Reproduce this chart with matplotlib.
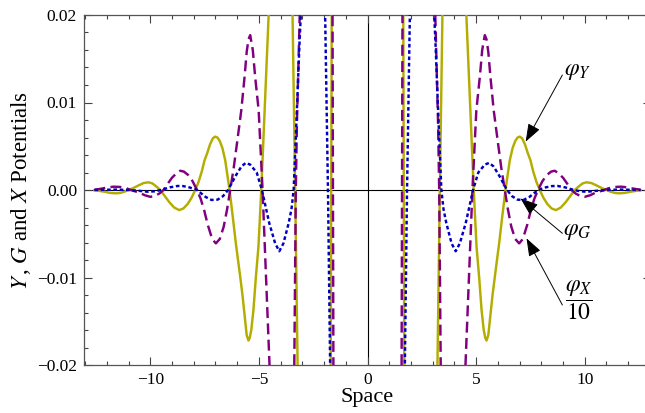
#!/usr/bin/env python3
"""
plot.py - Y, G and X potentials versus space (even functions, right half
read off the figure and mirrored onto the left half).
"""

import matplotlib
matplotlib.use("Agg")
import matplotlib.pyplot as plt
from matplotlib.ticker import MultipleLocator

# right half (x >= 0) of each curve; values beyond +-0.02 are off scale
y_x = [0.0, 1.00, 1.60, 1.67, 1.74, 2.40, 3.10, 3.22, 3.33, 3.45, 3.56, 3.90,
       4.20, 4.38, 4.55, 4.72, 4.89, 5.02, 5.14, 5.25, 5.35, 5.42, 5.48, 5.56,
       5.67, 5.76, 5.86, 5.96, 6.06, 6.20, 6.35, 6.45, 6.55, 6.68, 6.80, 6.91,
       7.01, 7.12, 7.25, 7.38, 7.50, 7.63, 7.78, 7.93, 8.10, 8.28, 8.47, 8.67,
       8.90, 9.12, 9.33, 9.54, 9.72, 9.90, 10.08, 10.30, 10.52, 10.76, 11.00,
       11.20, 11.40, 11.60, 11.85, 12.10, 12.35, 12.57]
y_vals = [0.30, 0.20, 0.06, 0.0, -0.06, -0.30, -0.04, -0.02, 0.0, 0.02, 0.04, 0.30,
          0.045, 0.03, 0.02, 0.0100, 0.0, -0.0065, -0.0100, -0.0137, -0.0160, -0.0169, -0.0172, -0.0166,
          -0.0140, -0.0119, -0.0099, -0.0080, -0.0061, -0.0031, 0.0, 0.0017, 0.0034, 0.0048, 0.0056, 0.0060,
          0.0061, 0.0059, 0.0052, 0.0042, 0.0034, 0.0021, 0.0009, 0.0, -0.0009, -0.0016, -0.0021, -0.0023,
          -0.0020, -0.0014, -0.0007, 0.0, 0.0004, 0.00075, 0.00088, 0.0008, 0.00055, 0.00025, 0.0,
          -0.0002, -0.00034, -0.00038, -0.00033, -0.0002, -0.0001, -0.00003]

x_x = [0.0, 1.53, 1.59, 1.65, 2.40, 3.00, 3.12, 3.25, 3.30, 3.37, 3.45, 3.90,
       4.40, 4.51, 4.67, 4.83, 5.01, 5.17, 5.28, 5.40, 5.48, 5.56, 5.66, 5.81,
       6.01, 6.16, 6.32, 6.47, 6.62, 6.80, 6.98, 7.15, 7.35, 7.52, 7.68, 7.85,
       8.05, 8.25, 8.45, 8.62, 8.80, 9.00, 9.20, 9.39, 9.58, 9.80, 10.00, 10.25,
       10.50, 10.90, 11.10, 11.40, 11.69, 11.95, 12.25, 12.57]
x_vals = [-0.30, -0.06, 0.0, 0.06, 0.30, 0.05, 0.02, 0.0075, 0.0, -0.02, -0.05, -0.30,
          -0.05, -0.02, -0.010, 0.0, 0.0091, 0.0129, 0.0160, 0.0177, 0.0172, 0.0158, 0.0129, 0.0091,
          0.0053, 0.0025, 0.0, -0.0023, -0.0042, -0.0056, -0.0061, -0.0056, -0.0040, -0.0023, -0.0010, 0.0,
          0.0010, 0.0017, 0.0021, 0.0022, 0.0019, 0.0014, 0.0007, 0.0, -0.0004, -0.0007, -0.00078, -0.0006,
          -0.0003, 0.0, 0.0002, 0.00035, 0.00038, 0.0003, 0.00015, 0.00003]

g_x = [0.0, 1.62, 1.72, 1.82, 1.95, 2.05, 2.50, 2.95, 3.07, 3.13, 3.25, 3.40,
       3.50, 3.63, 3.87, 4.06, 4.25, 4.52, 4.86, 5.10, 5.40, 5.60, 5.80, 6.05,
       6.42, 6.65, 6.90, 7.18, 7.45, 7.85, 8.20, 8.50, 8.75, 9.10, 9.50, 9.80,
       10.10, 10.50, 11.00, 11.60, 12.57]
g_vals = [-0.30, -0.04, -0.02, 0.0, 0.02, 0.04, 0.30, 0.04, 0.02, 0.0168, 0.0091, 0.0,
          -0.0022, -0.0038, -0.0061, -0.0070, -0.0061, -0.0038, 0.0, 0.0020, 0.0029, 0.0031, 0.0027, 0.0017,
          0.0, -0.0007, -0.0011, -0.00114, -0.0008, 0.0, 0.0003, 0.00045, 0.00046, 0.0003, 0.0, -0.00015,
          -0.0002, -0.0001, 0.0, 0.00005, 0.0]

x_ticks = [-10, -5, 0, 5, 10]
x_tick_labels = ["\u221210", "\u22125", "0", "5", "10"]
y_ticks = [-0.02, -0.01, 0.0, 0.01, 0.02]
y_tick_labels = ["\u22120.02", "\u22120.01", "0.00", "0.01", "0.02"]


def mirror(xs, ys):
    full_x = [-v for v in reversed(xs[1:])] + list(xs)
    full_y = list(reversed(ys[1:])) + list(ys)
    return full_x, full_y


def main():
    plt.rcParams["font.family"] = ["Liberation Serif", "DejaVu Serif"]
    plt.rcParams["mathtext.fontset"] = "stix"

    fig = plt.figure(figsize=(6.45, 4.13), dpi=100)
    ax = fig.add_axes([84 / 645, 48 / 413, 567 / 645, 350 / 413])

    ax.axhline(0, color="black", lw=0.8, zorder=1)
    ax.axvline(0, color="black", lw=0.8, zorder=1)

    xs, ys = mirror(y_x, y_vals)
    ax.plot(xs, ys, color="#b3ad00", lw=1.75, zorder=3)
    xs, ys = mirror(x_x, x_vals)
    ax.plot(xs, ys, color="#800080", lw=1.75, dashes=(4.5, 2.2), zorder=3)
    xs, ys = mirror(g_x, g_vals)
    ax.plot(xs, ys, color="#0000c0", lw=1.75, dashes=(1.5, 1.1), zorder=4)

    ax.set_xlim(-13.05, 13.05)
    ax.set_ylim(-0.02, 0.02)
    ax.set_xticks(x_ticks)
    ax.set_xticklabels(x_tick_labels)
    ax.set_yticks(y_ticks)
    ax.set_yticklabels(y_tick_labels)
    ax.xaxis.set_minor_locator(MultipleLocator(1))
    ax.yaxis.set_minor_locator(MultipleLocator(0.002))
    ax.tick_params(which="both", direction="in", top=True, right=True,
                   labelsize=12.5, color="#444444", width=0.8)
    ax.tick_params(which="major", length=5.5, pad=5)
    ax.tick_params(which="minor", length=2.8)
    for s in ax.spines.values():
        s.set_color("#555555")
        s.set_linewidth(0.9)

    ax.set_xlabel("Space", fontsize=16, labelpad=0)
    ax.set_ylabel(r"$Y\,$, $G$ and $X$ Potentials", fontsize=16.5, labelpad=3)

    arrow = dict(arrowstyle="-|>,head_length=0.55,head_width=0.2",
                 mutation_scale=20, color="black", lw=0.7,
                 shrinkA=0, shrinkB=0)
    ax.annotate("", xy=(7.28, 0.00552), xytext=(8.97, 0.01314), arrowprops=arrow)
    ax.annotate("", xy=(7.04, -0.00095), xytext=(8.97, -0.00495), arrowprops=arrow)
    ax.annotate("", xy=(7.32, -0.00552), xytext=(8.97, -0.01314), arrowprops=arrow)
    ax.text(9.05, 0.0135, r"$\varphi_Y$", fontsize=17, ha="left", va="center")
    ax.text(9.0, -0.0047, r"$\varphi_G$", fontsize=17, ha="left", va="center")
    ax.text(9.72, -0.0126, r"$\dfrac{\varphi_X}{10}$", fontsize=17,
            ha="center", va="center")

    fig.savefig("out.png", dpi=100)


if __name__ == "__main__":
    main()
